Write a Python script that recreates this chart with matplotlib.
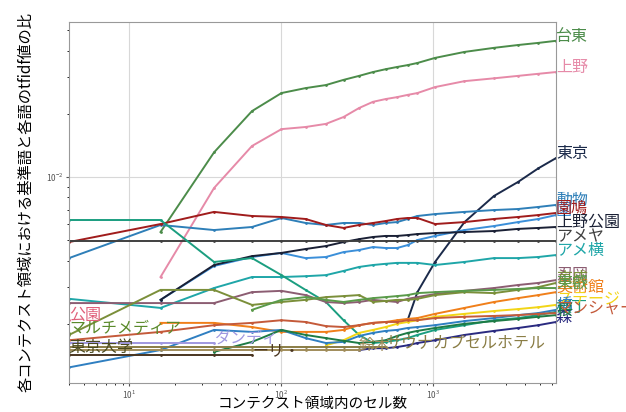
import numpy as np
import matplotlib.pyplot as plt

plt.rcParams['font.family'] = ['Noto Sans CJK JP', 'DejaVu Sans']

# number of cells in the context region (x axis)
cells = [4, 16, 36, 64, 100, 144, 196, 256, 324, 400, 484, 576, 676, 784,
         1024, 1600, 2500, 3600, 4900, 6400]

nan = np.nan
# tfidf ratio, in units of 1e-3
taito = [nan, 5.47, 13.1, 20.6, 25.1, 26.5, 27.4, 29.0, 30.3, 31.6, 32.6, 33.4, 34.1, 34.9, 36.9, 39.4, 41.2, 42.5, 43.5, 44.5]
ueno = [nan, 3.34, 8.86, 14.05, 16.9, 17.3, 17.9, 19.3, 21.3, 22.8, 23.5, 24.0, 24.6, 25.1, 26.8, 28.6, 29.5, 30.3, 31.0, 31.6]
tokyo = [nan, nan, nan, nan, nan, nan, nan, nan, nan, nan, nan, nan, 2.08, 2.83, 3.94, 6.10, 8.12, 9.47, 11.0, 12.3]
doubutsu = [4.11, 5.91, 5.59, 5.78, 6.38, 6.04, 5.91, 6.04, 6.04, 5.91, 6.04, 6.10, 6.31, 6.52, 6.66, 6.82, 6.96, 7.04, 7.20, 7.36]
en = [nan, 2.60, 3.77, 4.16, 4.35, 4.11, 4.16, 4.39, 4.49, 4.64, 4.59, 4.59, 4.74, 5.01, 5.24, 5.59, 5.84, 6.10, 6.31, 6.59]
hato = [4.90, 5.97, 6.82, 6.52, 6.45, 6.31, 5.91, 5.72, 5.91, 6.04, 6.17, 6.31, 6.38, 6.38, 5.97, 6.10, 6.31, 6.45, 6.59, 6.74]
ueno_koen = [nan, 2.60, 3.81, 4.20, 4.35, 4.54, 4.69, 4.90, 5.06, 5.18, 5.24, 5.24, 5.29, 5.35, 5.41, 5.47, 5.53, 5.66, 5.72, 5.78]
ameya = [4.96, 4.96, 4.96, 4.96, 4.96, 4.96, 4.96, 4.96, 4.96, 4.96, 4.96, 4.96, 4.96, 4.96, 4.96, 4.96, 4.96, 4.96, 4.96, 4.96]
ameyoko = [2.63, 2.38, 2.96, 3.34, 3.34, 3.37, 3.41, 3.57, 3.73, 3.81, 3.86, 3.90, 3.90, 3.90, 3.81, 3.94, 4.11, 4.11, 4.16, 4.25]
yokocho = [6.24, 6.24, 3.94, 4.11, 3.41, 2.90, 2.54, 2.08, 1.77, 1.62, 1.64, 1.67, 1.71, 1.77, 1.87, 1.97, 2.08, 2.13, 2.20, 2.28]
shinobu = [2.51, 2.51, 2.51, 2.83, 2.87, 2.74, 2.54, 2.51, 2.54, 2.60, 2.57, 2.54, 2.63, 2.68, 2.77, 2.87, 2.96, 3.06, 3.13, 3.23]
keisei = [1.77, 2.90, 2.90, 2.46, 2.54, 2.60, 2.68, 2.71, 2.74, 2.54, 2.57, 2.60, 2.60, 2.63, 2.74, 2.83, 2.80, 2.90, 2.99, 3.13]
bijutsukan = [nan, 2.02, 2.02, 1.93, 1.83, 1.83, 1.83, 1.87, 1.97, 2.02, 2.04, 2.08, 2.11, 2.13, 2.23, 2.38, 2.54, 2.65, 2.74, 2.83]
toei = [nan, nan, nan, 2.33, 2.60, 2.68, 2.60, 2.54, 2.60, 2.65, 2.68, 2.71, 2.74, 2.80, 2.83, 2.87, 2.90, 2.93, 2.96, 2.96]
stage = [nan, nan, nan, nan, nan, nan, 1.58, 1.67, 1.81, 1.87, 1.93, 2.00, 2.04, 2.08, 2.16, 2.23, 2.30, 2.35, 2.40, 2.46]
hashi = [1.24, 1.50, 1.87, 1.83, 1.87, 1.71, 1.62, 1.64, 1.75, 1.81, 1.85, 1.87, 1.91, 1.93, 1.97, 2.06, 2.13, 2.20, 2.25, 2.33]
mori = [nan, nan, nan, nan, nan, nan, nan, nan, 1.50, 1.53, 1.53, 1.55, 1.58, 1.62, 1.67, 1.77, 1.85, 1.91, 1.97, 2.04]
sakura = [nan, nan, 1.47, 1.64, 1.87, 1.77, 1.71, 1.66, 1.62, 1.64, 1.67, 1.75, 1.81, 1.85, 1.91, 2.00, 2.06, 2.11, 2.16, 2.20]
mansha = [1.67, 1.83, 1.97, 2.02, 2.08, 2.04, 1.95, 1.93, 1.97, 2.02, 2.04, 2.04, 2.08, 2.08, 2.13, 2.16, 2.18, 2.20, 2.23, 2.25]
suzuki = [1.50, 1.50, 1.50, 1.50, 1.50, 1.50, 1.50, 1.50, 1.50, nan, nan, nan, nan, nan, nan, nan, nan, nan, nan, nan]
sauna = [1.55, 1.55, 1.55, 1.55, 1.55, 1.55, 1.55, 1.55, 1.55, 1.55, 1.55, nan, nan, nan, nan, nan, nan, nan, nan, nan]
todai = [1.47, nan, nan, nan, nan, nan, nan, nan, nan, nan, nan, nan, nan, nan, nan, nan, nan, nan, nan, nan]
multimedia = [1.81, nan, nan, nan, nan, nan, nan, nan, nan, nan, nan, nan, nan, nan, nan, nan, nan, nan, nan, nan]
koen = [2.08, nan, nan, nan, nan, nan, nan, nan, nan, nan, nan, nan, nan, nan, nan, nan, nan, nan, nan, nan]
dandy = [1.62, 1.62, 1.62, nan, nan, nan, nan, nan, nan, nan, nan, nan, nan, nan, nan, nan, nan, nan, nan, nan]
riichi = [1.42, 1.42, 1.42, 1.42, nan, nan, nan, nan, nan, nan, nan, nan, nan, nan, nan, nan, nan, nan, nan, nan]

words = ['台東', '上野', '東京', '動物', '園', '園鳩', '上野公園', 'アメヤ', 'アメ横', '横丁',
         '忍岡', '京成', '美術館', '東叡', 'ステージ', '橋', '森', '桜', 'マンシャー',
         '鈴木', 'サウナカプセルホテル', '東京大学', 'マルチメディア', '公園', 'ダンディ', 'ーリ・']
ratios = [taito, ueno, tokyo, doubutsu, en, hato, ueno_koen, ameya, ameyoko, yokocho,
          shinobu, keisei, bijutsukan, toei, stage, hashi, mori, sakura, mansha,
          suzuki, sauna, todai, multimedia, koen, dandy, riichi]
colors = ['#4c8c4a', '#e68aa8', '#1b2a4a', '#2e7fb8', '#3b8fd9', '#a01c1c', '#1a2035', '#404040',
          '#1fa6a8', '#1b9e80', '#8c5d72', '#7b8f3a', '#f07f1a', '#5a9a4a', '#f2d516', '#2f7fc1',
          '#2a2a80', '#1e7b45', '#c45a3a', '#a08c5a', '#8a7d45', '#4a4a20', '#5a8a2a',
          '#e0607a', '#a098e0', '#4a3520']

x = np.array(cells)
fig = plt.figure(figsize=(6.26, 4.12), dpi=100)
ax = fig.add_axes([69/626, 29/412, 487/626, 361/412])

for w, r, c in zip(words, ratios, colors):
    y = np.array(r) * 1e-3
    ax.plot(x, y, color=c, lw=1.4, marker='.', ms=2)
    last = np.where(~np.isnan(y))[0][-1]
    ax.text(x[last], y[last], w, color=c, fontsize=11.5)

ax.set_xscale('log')
ax.set_yscale('log')
ax.set_xlim(4, 6400)
ax.set_ylim(1.045e-3, 5.47e-2)
ax.grid(True, color='#d8d8d8', lw=0.8)
ax.tick_params(labelsize=6, colors='#555555', length=2.5, pad=1.5)
ax.tick_params(which='minor', length=1.5)
for s in ax.spines.values():
    s.set_color('#999999')
ax.set_xlabel('コンテクスト領域内のセル数', fontsize=10.5, labelpad=-3)
ax.set_ylabel('各コンテクスト領域における基準語と各語のtfidf値の比', fontsize=11, labelpad=8)

fig.savefig('out.png', dpi=100)
